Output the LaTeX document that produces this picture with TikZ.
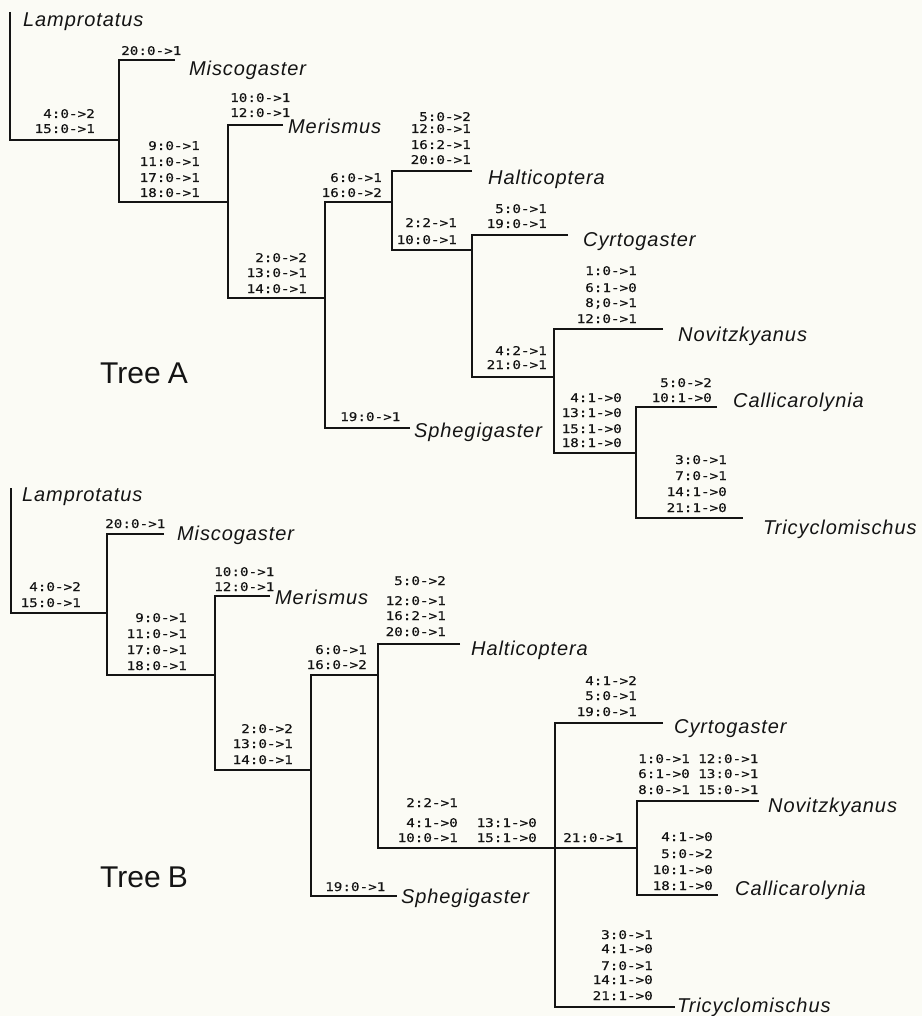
\documentclass[tikz,border=0pt]{standalone}
\usepackage{fontspec}
\setmainfont{Liberation Sans}
\newfontfamily\codefont[FakeStretch=1.19,FakeBold=0.35]{DejaVu Sans Mono}
\newfontfamily\taxonfont[LetterSpace=4.5]{Liberation Sans}
\definecolor{paper}{RGB}{251,251,245}
\definecolor{ink}{RGB}{20,20,20}

% a column of character-state changes: prefix, style, x, list of baseline/text
\newcommand\codecol[4]{%
  \foreach \lby/\lbtxt [count=\lbi] in {#4}
    \node[#2] (#1\lbi) at (#3,\lby) {\lbtxt};}

\begin{document}
\begin{tikzpicture}[x=1pt,y=-1pt,
  branch/.style={line width=1.9pt, draw=ink, line join=miter},
  cr/.style={font=\codefont\fontsize{12}{12}\selectfont, inner sep=0pt, anchor=base east, text=ink},
  cl/.style={cr, anchor=base west},
  taxon/.style={font=\taxonfont\itshape\fontsize{20}{20}\selectfont, inner sep=0pt, anchor=base west, text=ink},
  treelabel/.style={font=\fontsize{30}{30}\selectfont, inner sep=0pt, anchor=base west, text=ink}]
\fill[paper] (0,0) rectangle (922,1016);
\useasboundingbox (0,0) rectangle (922,1016);

%%%%%%%%%%%%%%%%%%%%%%%%%%%% Tree A
% branch points
\coordinate (A-n1) at (119,140);
\coordinate (A-n2) at (228,202);
\coordinate (A-n3) at (325,298);
\coordinate (A-n4) at (392,202);
\coordinate (A-n5) at (472,250);
\coordinate (A-n6) at (554,377);
\coordinate (A-n7) at (636,453);
% tips
\coordinate (A-lamp-end) at (10,12);
\coordinate (A-misc-end) at (175,60);
\coordinate (A-meri-end) at (283,125);
\coordinate (A-sphe-end) at (410,428);
\coordinate (A-halt-end) at (472,171);
\coordinate (A-cyrt-end) at (568,235);
\coordinate (A-novi-end) at (663,329);
\coordinate (A-call-end) at (717,407);
\coordinate (A-tric-end) at (743,518);

\draw[branch] (A-lamp-end) |- (A-n1);
\draw[branch] (A-misc-end) -| (A-n1) |- (A-n2);
\draw[branch] (A-meri-end) -| (A-n2) |- (A-n3);
\draw[branch] (A-n4) -| (A-n3) |- (A-sphe-end);
\draw[branch] (A-halt-end) -| (A-n4) |- (A-n5);
\draw[branch] (A-cyrt-end) -| (A-n5) |- (A-n6);
\draw[branch] (A-novi-end) -| (A-n6) |- (A-n7);
\draw[branch] (A-call-end) -| (A-n7) |- (A-tric-end);

\node[taxon] (A-lamp) at (23,27) {Lamprotatus};
\node[taxon] (A-misc) at (189,76) {Miscogaster};
\node[taxon] (A-meri) at (288,134) {Merismus};
\node[taxon] (A-sphe) at (414,437) {Sphegigaster};
\node[taxon] (A-halt) at (488,185) {Halticoptera};
\node[taxon] (A-cyrt) at (583,247) {Cyrtogaster};
\node[taxon] (A-novi) at (678,341) {Novitzkyanus};
\node[taxon] (A-call) at (733,407) {Callicarolynia};
\node[taxon] (A-tric) at (763,534) {Tricyclomischus};
\node[treelabel] (A-title) at (100,383) {Tree\hspace{7pt}A};

\codecol{A-a}{cr}{95}{118/4:0->2, 133/15:0->1}
\codecol{A-b}{cl}{121}{55/20:0->1}
\codecol{A-c}{cr}{200}{150/9:0->1, 166/11:0->1, 182/17:0->1, 197/18:0->1}
\codecol{A-d}{cl}{230}{102/10:0->1, 117/12:0->1}
\codecol{A-e}{cr}{307}{262/2:0->2, 277/13:0->1, 293/14:0->1}
\codecol{A-f}{cr}{382}{182/6:0->1, 197/16:0->2}
\codecol{A-g}{cl}{340}{421/19:0->1}
\codecol{A-h}{cr}{471}{121/5:0->2, 133/12:0->1, 149/16:2->1, 164/20:0->1}
\codecol{A-i}{cr}{457}{227/2:2->1, 244/10:0->1}
\codecol{A-j}{cr}{547}{213/5:0->1, 228/19:0->1}
\codecol{A-k}{cr}{547}{355/4:2->1, 369/21:0->1}
\codecol{A-l}{cr}{637}{275/1:0->1, 292/6:1->0, 307/8;0->1, 323/12:0->1}
\codecol{A-m}{cr}{622}{402/4:1->0, 417/13:1->0, 433/15:1->0, 447/18:1->0}
\codecol{A-n}{cr}{712}{387/5:0->2, 402/10:1->0}
\codecol{A-o}{cr}{727}{464/3:0->1, 480/7:0->1, 496/14:1->0, 512/21:1->0}

%%%%%%%%%%%%%%%%%%%%%%%%%%%% Tree B
\coordinate (B-n1) at (107,613);
\coordinate (B-n2) at (215,675);
\coordinate (B-n3) at (311,770);
\coordinate (B-n4) at (378,675);
\coordinate (B-n5) at (555,848);
\coordinate (B-n6) at (637,848);
\coordinate (B-lamp-end) at (11,488);
\coordinate (B-misc-end) at (164,534);
\coordinate (B-meri-end) at (270,596);
\coordinate (B-sphe-end) at (397,896);
\coordinate (B-halt-end) at (460,644);
\coordinate (B-cyrt-end) at (663,723);
\coordinate (B-novi-end) at (759,801);
\coordinate (B-call-end) at (718,895);
\coordinate (B-tric-end) at (675,1007);

\draw[branch] (B-lamp-end) |- (B-n1);
\draw[branch] (B-misc-end) -| (B-n1) |- (B-n2);
\draw[branch] (B-meri-end) -| (B-n2) |- (B-n3);
\draw[branch] (B-n4) -| (B-n3) |- (B-sphe-end);
\draw[branch] (B-halt-end) -| (B-n4) |- (B-n5);
\draw[branch] (B-cyrt-end) -| (B-n5) |- (B-tric-end);
\draw[branch] (B-n5) -- (B-n6);
\draw[branch] (B-novi-end) -| (B-n6) |- (B-call-end);

\node[taxon] (B-lamp) at (22,501) {Lamprotatus};
\node[taxon] (B-misc) at (177,540) {Miscogaster};
\node[taxon] (B-meri) at (275,604) {Merismus};
\node[taxon] (B-sphe) at (401,903) {Sphegigaster};
\node[taxon] (B-halt) at (471,655) {Halticoptera};
\node[taxon] (B-cyrt) at (674,733) {Cyrtogaster};
\node[taxon] (B-novi) at (768,812) {Novitzkyanus};
\node[taxon] (B-call) at (735,895) {Callicarolynia};
\node[taxon] (B-tric) at (677,1012) {Tricyclomischus};
\node[treelabel] (B-title) at (100,887) {Tree\hspace{7pt}B};

\codecol{B-a}{cr}{81}{591/4:0->2, 607/15:0->1}
\codecol{B-b}{cl}{105}{528/20:0->1}
\codecol{B-c}{cr}{187}{622/9:0->1, 638/11:0->1, 654/17:0->1, 670/18:0->1}
\codecol{B-d}{cl}{214}{576/10:0->1, 591/12:0->1}
\codecol{B-e}{cr}{293}{733/2:0->2, 748/13:0->1, 764/14:0->1}
\codecol{B-f}{cr}{367}{654/6:0->1, 669/16:0->2}
\codecol{B-g}{cl}{325}{891/19:0->1}
\codecol{B-h}{cr}{446}{585/5:0->2, 605/12:0->1, 620/16:2->1, 636/20:0->1}
\codecol{B-i}{cr}{458}{807/2:2->1, 827/4:1->0, 842/10:0->1}
\codecol{B-j}{cr}{537}{827/13:1->0, 842/15:1->0}
\codecol{B-k}{cl}{563}{842/21:0->1}
\codecol{B-l}{cr}{637}{685/4:1->2, 700/5:0->1, 716/19:0->1}
\codecol{B-m}{cl}{638}{763/1:0->1, 778/6:1->0, 794/8:0->1}
\codecol{B-n}{cl}{698}{763/12:0->1, 778/13:0->1, 794/15:0->1}
\codecol{B-o}{cr}{713}{841/4:1->0, 858/5:0->2, 874/10:1->0, 890/18:1->0}
\codecol{B-p}{cr}{653}{939/3:0->1, 953/4:1->0, 970/7:0->1, 984/14:1->0, 1000/21:1->0}
\end{tikzpicture}
\end{document}
